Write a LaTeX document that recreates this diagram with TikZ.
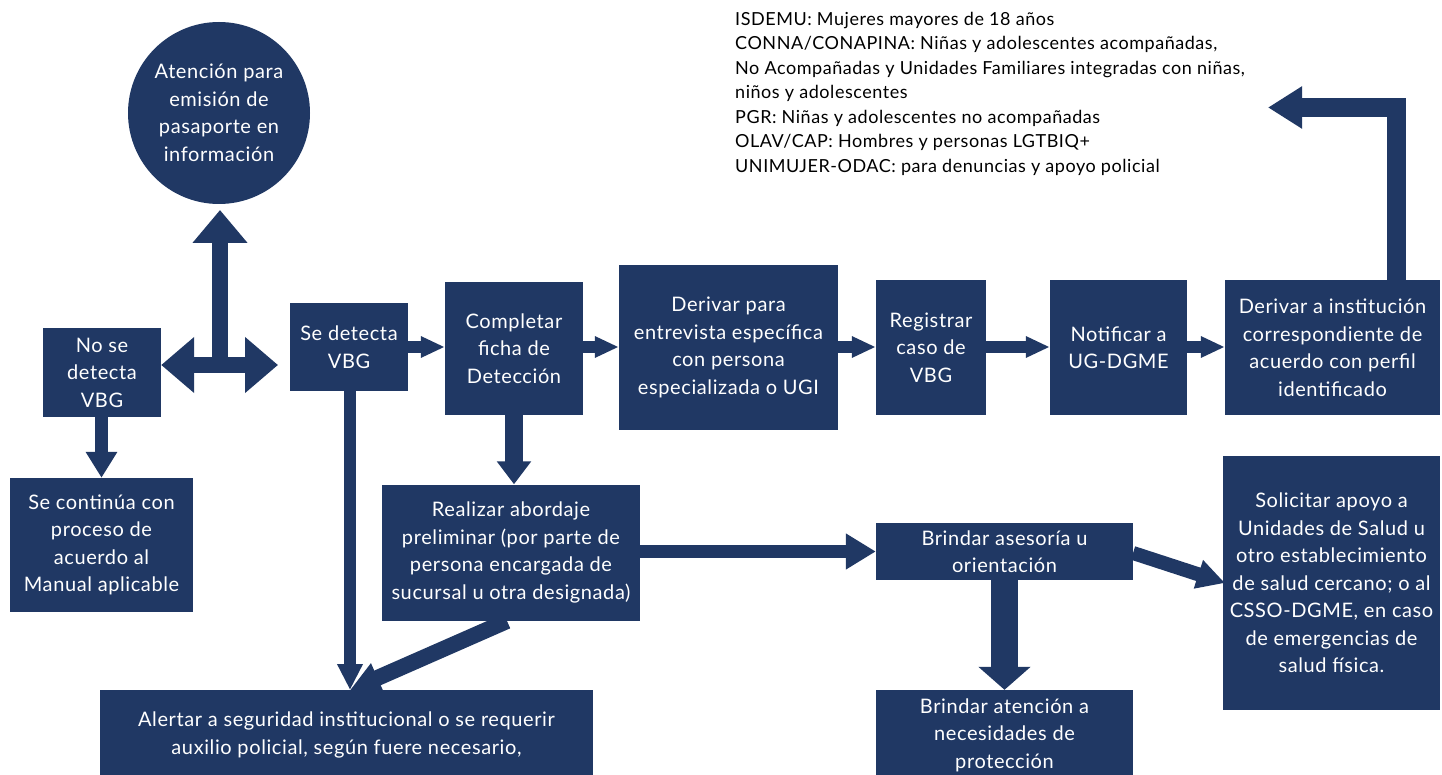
\documentclass[tikz,border=0pt]{standalone}
\usepackage{fontspec}
\setmainfont{Lato}
\newfontfamily\boxfont[LetterSpace=3]{Lato}
\usetikzlibrary{arrows.meta,calc}
\definecolor{navy}{RGB}{32,56,100}
\begin{document}
\begin{tikzpicture}[x=1pt,y=-1pt,
  box/.style={fill=navy,draw=none,text=white,align=center,inner sep=0pt,
     font=\boxfont\fontsize{20}{27.5}\selectfont},
  ar/.style n args={3}{draw=navy,line width=#1,line join=miter,
     -{Triangle[width=#2,length=#3]}},
  ard/.style n args={3}{draw=navy,line width=#1,line join=miter,
     {Triangle[width=#2,length=#3]}-{Triangle[width=#2,length=#3]}}]
\clip (0,0) rectangle (1442,775);
\fill[white] (0,0) rectangle (1442,775);

% nodes
\node[box,minimum width=118,minimum height=89] (noVBG) at (102,372.5) {No se\\detecta\\VBG};
\node[box,circle,minimum size=182] (circ) at (219,113) {Atención para\\emisión de\\pasaporte en\\información};
\node[box,minimum width=118,minimum height=88] (seVBG) at (349,347) {Se detecta\\VBG};
\node[box,minimum width=138,minimum height=133] (compl) at (514,348.5) {Completar\\ficha de\\Detección};
\node[box,minimum width=219,minimum height=165] (derEnt) at (728.5,347.5) {Derivar para\\entrevista específica\\con persona\\especializada o UGI};
\node[box,minimum width=110,minimum height=135] (regis) at (931,347.5) {Registrar\\caso de\\VBG};
\node[box,minimum width=137,minimum height=135] (notif) at (1118.5,347.5) {Notificar a\\UG-DGME};
\node[box,minimum width=215,minimum height=135] (derInst) at (1332.5,347.5) {Derivar a institución\\correspondiente de\\acuerdo con perfil\\identificado};
\node[box,minimum width=183,minimum height=134] (contin) at (101.5,545) {Se continúa con\\proceso de\\acuerdo al\\Manual aplicable};
\node[box,minimum width=258,minimum height=136] (realiz) at (511,552.5) {Realizar abordaje\\preliminar (por parte de\\persona encargada de\\sucursal u otra designada)};
\node[box,minimum width=257,minimum height=57] (brAse) at (1004.5,551.5) {Brindar asesoría u\\orientación};
\node[box,minimum width=217,minimum height=254] (solic) at (1331.5,583) {Solicitar apoyo a\\Unidades de Salud u\\otro establecimiento\\de salud cercano; o al\\CSSO-DGME, en caso\\de emergencias de\\salud física.};
\node[box,minimum width=257,minimum height=90] (brAt) at (1004.5,735) {Brindar atención a\\necesidades de\\protección};
\node[box,minimum width=493,minimum height=90] (alert) at (346.5,735) {Alertar a seguridad institucional o se requerir\\auxilio policial, según fuere necesario,};

\node[anchor=west,align=left,inner sep=0pt,text=black,
  font=\boxfont\fontsize{18}{24.5}\selectfont] (legend) at (735,93.5)
 {ISDEMU: Mujeres mayores de 18 años\\
  CONNA/CONAPINA: Niñas y adolescentes acompañadas,\\
  No Acompañadas y Unidades Familiares integradas con niñas,\\
  niños y adolescentes\\
  PGR: Niñas y adolescentes no acompañadas\\
  OLAV/CAP: Hombres y personas LGTBIQ+\\
  UNIMUJER-ODAC: para denuncias y apoyo policial};

% coordinates
\coordinate (j) at (220,365);
\coordinate (jR) at (278,365);
\coordinate (jU) at (220,210);
\coordinate (corner) at (1396,107.5);
\coordinate (lTip) at (1268,107.5);
\coordinate (aTip) at (350,690);
\coordinate (rStart) at (507,621);
\coordinate (bStart) at (1133,553);
\coordinate (sTip) at (1225,583);

% three-way arrow
\draw[ard={16}{54}{33}] (noVBG.east |- j) -- (jR);
\draw[ar={16}{53}{33}] (j) -- (jU);

% arrows
\draw[ar={13}{30}{26}] (noVBG.south -| contin.north) -- (contin.north);
\draw[ar={12}{20}{24}] (seVBG.east) -- (seVBG.east -| compl.west);
\draw[ar={12}{20}{24}] (compl.east |- seVBG.east) -- (derEnt.west |- seVBG.east);
\draw[ar={12}{20}{24}] (derEnt.east |- seVBG.east) -- (regis.west |- seVBG.east);
\draw[ar={12}{20}{24}] (regis.east |- seVBG.east) -- (notif.west |- seVBG.east);
\draw[ar={12}{20}{24}] (notif.east |- seVBG.east) -- (derInst.west |- seVBG.east);
\draw[ar={19}{40}{34}] (derInst.north -| corner) -- (corner) -- (lTip);
\draw[ar={12}{24}{26}] (seVBG.south -| aTip) -- (aTip);
\draw[ar={18}{33}{23}] (compl.south) -- (compl.south |- realiz.north);
\draw[ar={16}{30}{30}] (rStart) -- (aTip);
\draw[ar={13}{34}{30}] (realiz.east |- brAse.west) -- (brAse.west);
\draw[ar={14}{28}{28}] (bStart) -- (sTip);
\draw[ar={27}{51}{23}] (brAse.south) -- (brAse.south |- brAt.north);
\end{tikzpicture}
\end{document}
